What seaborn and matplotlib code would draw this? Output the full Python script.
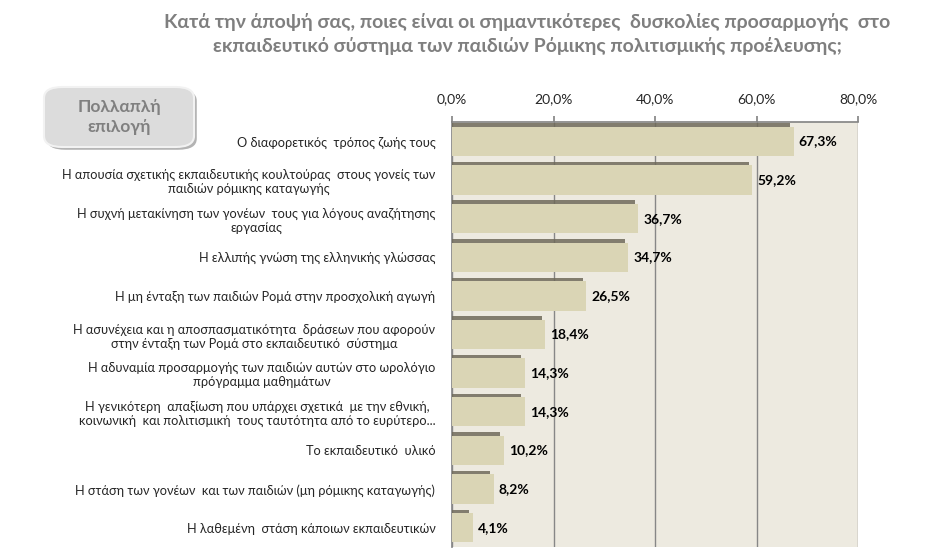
import pandas as pd
import seaborn as sns
import matplotlib.pyplot as plt
import matplotlib.patheffects as pe
from matplotlib.patches import FancyBboxPatch

# Δεδομένα
categories = [
    "Ο διαφορετικός  τρόπος ζωής τους",
    "Η απουσία σχετικής εκπαιδευτικής κουλτούρας  στους γονείς των\nπαιδιών ρόμικης καταγωγής",
    "Η συχνή μετακίνηση των γονέων  τους για λόγους αναζήτησης\nεργασίας",
    "Η ελλιπής γνώση της ελληνικής γλώσσας",
    "Η μη ένταξη των παιδιών Ρομά στην προσχολική αγωγή",
    "Η ασυνέχεια και η αποσπασματικότητα  δράσεων που αφορούν\nστην ένταξη των Ρομά στο εκπαιδευτικό  σύστημα",
    "Η αδυναμία προσαρμογής των παιδιών αυτών στο ωρολόγιο\nπρόγραμμα μαθημάτων",
    "Η γενικότερη  απαξίωση που υπάρχει σχετικά  με την εθνική,\nκοινωνική  και πολιτισμική  τους ταυτότητα από το ευρύτερο...",
    "Το εκπαιδευτικό  υλικό",
    "Η στάση των γονέων  και των παιδιών (μη ρόμικης καταγωγής)",
    "Η λαθεμένη  στάση κάποιων εκπαιδευτικών",
]
values = [67.3, 59.2, 36.7, 34.7, 26.5, 18.4, 14.3, 14.3, 10.2, 8.2, 4.1]
xticks = [0, 20, 40, 60, 80]

title = ("Κατά την άποψή σας, ποιες είναι οι σημαντικότερες  δυσκολίες προσαρμογής  στο\n"
         "εκπαιδευτικό σύστημα των παιδιών Ρόμικης πολιτισμικής προέλευσης;")
badge = "Πολλαπλή\nεπιλογή"

df = pd.DataFrame({"cat": categories, "val": values})

sns.set_theme(style="white")
plt.rcParams["font.family"] = ["Lato", "DejaVu Sans"]

fig = plt.figure(figsize=(9.32, 5.49), dpi=100)
ax = fig.add_axes([452 / 932, 2 / 549, 406 / 932, 425 / 549])
ax.set_facecolor("#EDEAE0")

sns.barplot(data=df, x="val", y="cat", color="#DAD5B5", saturation=1,
            width=0.76, orient="h", ax=ax, zorder=3)
for bar in ax.patches:
    bar.set_path_effects([pe.SimplePatchShadow(offset=(-2.5, 2.5), shadow_rgbFace="#6f6a5a", alpha=0.85),
                          pe.Normal()])
    bar.set_edgecolor("none")

# ετικέτες τιμών
for i, v in enumerate(values):
    ax.text(v + 1.0, i, f"{v:.1f}%".replace(".", ","), va="center", ha="left",
            fontsize=10, fontweight="bold", color="black", zorder=4)

ax.set_xlim(0, 80)
ax.set_ylim(len(values) - 0.5, -0.5)
ax.xaxis.tick_top()
ax.set_xticks(xticks)
ax.set_xticklabels([f"{t:.1f}%".replace(".", ",") for t in xticks], fontsize=10)
ax.tick_params(axis="x", direction="out", length=4, color="#878787", pad=8)
ax.grid(axis="x", color="#878787", linewidth=1, zorder=0)
ax.set_axisbelow(True)

ax.set_yticks(range(len(values)))
ax.set_yticklabels(categories, fontsize=9.2, multialignment="center")
ax.tick_params(axis="y", length=0, pad=12)
ax.set_yticks([i + 0.5 for i in range(-1, len(values))], minor=True)
ax.tick_params(axis="y", which="minor", length=4, color="#878787", direction="out")
ax.set_xlabel("")
ax.set_ylabel("")

for side in ["top", "left"]:
    ax.spines[side].set_color("#878787")
for side in ["right", "bottom"]:
    ax.spines[side].set_visible(False)

fig.text(527 / 932, 1 - 34 / 549, title, ha="center", va="center", fontsize=14,
         fontweight="bold", color="#7F7F7F", linespacing=1.45)

box = FancyBboxPatch((44 / 932, 1 - 147 / 549), 150 / 932, 60 / 549,
                     boxstyle="round,pad=0,rounding_size=0.02", transform=fig.transFigure,
                     facecolor="#DCDCDC", edgecolor="#F2F2F2", linewidth=1.5,
                     path_effects=[pe.SimplePatchShadow(offset=(2, -2), alpha=0.4), pe.Normal()])
fig.patches.append(box)
fig.text(119 / 932, 1 - 117 / 549, badge, ha="center", va="center", fontsize=12.5,
         fontweight="bold", color="#808080", linespacing=1.3)

fig.savefig("out.png", dpi=100)
